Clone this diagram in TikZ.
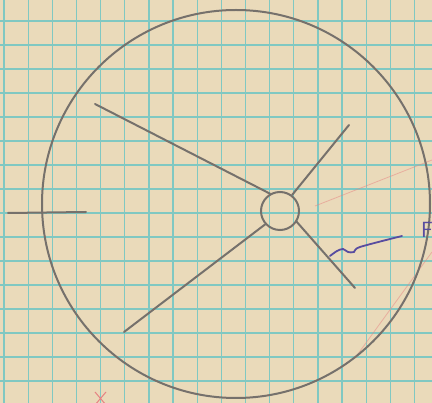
\documentclass[tikz,border=0pt]{standalone}
\usetikzlibrary{arrows.meta, positioning, calc}
\usepackage{xcolor}
\definecolor{papercolor}{RGB}{234,218,186}
\definecolor{gridcolor}{RGB}{128,200,194}
\definecolor{pencilcolor}{RGB}{118,113,108}
\definecolor{inkcolor}{RGB}{88,76,160}
\definecolor{redpen}{RGB}{230,130,130}
\tikzset{
  gridline/.style = {draw=gridcolor, line width=1.3pt},
  pencil/.style   = {draw=pencilcolor, line width=2pt, line cap=round},
  hub/.style      = {circle, draw=pencilcolor, line width=2pt, minimum size=38pt, inner sep=0pt},
  ink/.style      = {draw=inkcolor, line width=1.8pt, line cap=round},
  faint/.style    = {draw=redpen, line width=0.8pt, opacity=0.5},
}

\begin{document}
\begin{tikzpicture}[x=1pt, y=-1pt]
  \useasboundingbox[fill=papercolor] (0,0) rectangle (432,403);
  % grid paper
  \foreach \k in {0,...,17} {
    \draw[gridline] (4+24.15*\k, 0) -- (4+24.15*\k, 403);
  }
  \foreach \k in {0,...,15} {
    \draw[gridline] (0, 21+24*\k) -- (432, 21+24*\k);
  }
  % faint red marks
  \draw[faint] (315,206) -- (432,160);
  \draw[faint] (355,358) -- (432,252);
  \draw[redpen, line width=1pt] (95,392) -- (106,405) (106,392) -- (95,405);
  % rim and hub
  \draw[pencil] (236,204) circle[radius=194pt];
  \node[hub] (hub) at (280,211) {};
  % spokes
  \foreach \nd/\x/\y/\a in {s1/95/104/120, s2/349/125/53, s3/124/332/222, s4/355/288/327} {
    \coordinate (\nd) at (\x,\y);
    \draw[pencil] (\nd) -- (hub.\a);
  }
  % tick on the left
  \coordinate (t1) at (8,213);
  \coordinate (t2) at (86,212);
  \draw[pencil] (t1) -- (t2);
  % ink scribble
  \draw[ink] plot[smooth] coordinates {(330,256) (337,251) (343,249) (348,252) (354,252) (360,247) (402,236)};
  \node[anchor=west, inner sep=0pt, text=inkcolor, font=\fontsize{22}{22}\selectfont\sffamily] (f) at (421,230) {F};
\end{tikzpicture}
\end{document}
